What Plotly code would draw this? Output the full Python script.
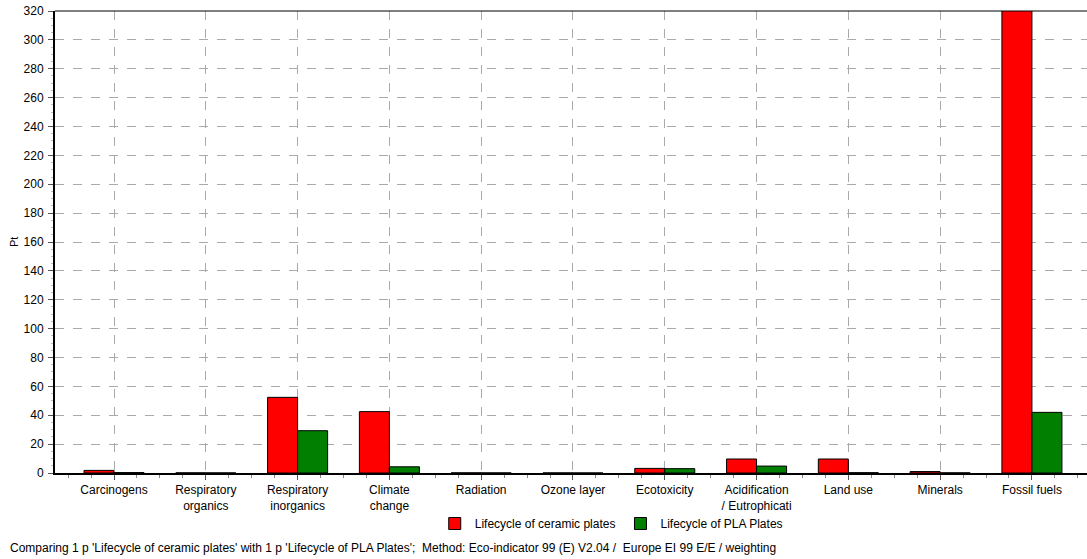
import plotly.graph_objects as go

categories = ["Carcinogens", "Respiratory<br>organics", "Respiratory<br>inorganics", "Climate<br>change",
              "Radiation", "Ozone layer", "Ecotoxicity", "Acidification<br>/ Eutrophicati",
              "Land use", "Minerals", "Fossil fuels"]
ceramic = [1.8, 0.1, 52.4, 42.5, 0.1, 0.05, 3.2, 9.7, 9.7, 1.0, 325]
pla = [0.3, 0.05, 29.3, 4.3, 0.05, 0.02, 3.0, 4.8, 0.2, 0.1, 42.0]
y_ticks = list(range(0, 321, 20))

xpos = list(range(len(categories)))
FONT = "Liberation Sans"
PLOT_H = 462

fig = go.Figure()
fig.add_trace(go.Bar(x=xpos, y=ceramic, name="Lifecycle of ceramic plates",
                     marker=dict(color="#ff0000", line=dict(color="#000000", width=1))))
fig.add_trace(go.Bar(x=xpos, y=pla, name="Lifecycle of PLA Plates",
                     marker=dict(color="#007f00", line=dict(color="#000000", width=1))))

fig.update_layout(
    width=1087, height=559,
    margin=dict(l=55, r=0, t=11, b=86, autoexpand=False),
    paper_bgcolor="white", plot_bgcolor="white",
    barmode="group", bargap=0.346, bargroupgap=0,
    font=dict(family=FONT, size=12, color="#000000"),
    showlegend=True,
    legend=dict(orientation="h", x=0.539, xanchor="center", y=-36 / PLOT_H, yanchor="top",
                font=dict(size=12), tracegroupgap=0, bgcolor="rgba(0,0,0,0)"),
)
fig.update_xaxes(
    range=[-0.643, 10.6], tickvals=xpos, ticktext=categories,
    showgrid=True, gridcolor="#aaaaaa", griddash="dash", gridwidth=1,
    showline=True, linecolor="#000000", linewidth=2,
    ticks="outside", ticklen=5, tickcolor="#555555",
    minor=dict(dtick=0.25, tick0=0, ticks="outside", ticklen=3, tickcolor="#888888", showgrid=False),
    zeroline=False, tickfont=dict(size=12), automargin=False,
)
fig.update_yaxes(
    range=[0, 320], tickvals=y_ticks,
    showgrid=True, gridcolor="#aaaaaa", griddash="dash", gridwidth=1,
    showline=True, linecolor="#000000", linewidth=2,
    ticks="outside", ticklen=5, tickcolor="#555555", ticklabelstandoff=2,
    minor=dict(dtick=5, ticks="outside", ticklen=2, tickcolor="#bbbbbb", showgrid=False),
    zeroline=False, tickfont=dict(size=12), automargin=False,
)
fig.add_shape(type="line", xref="paper", yref="paper", x0=0, x1=1, y0=1, y1=1,
              line=dict(color="#000000", width=1))
fig.add_annotation(text="Pt", textangle=-90, xref="paper", yref="paper",
                   x=0, xanchor="center", xshift=-41, y=0.5, showarrow=False, font=dict(size=11))
fig.add_annotation(
    text="Comparing 1 p 'Lifecycle of ceramic plates' with 1 p 'Lifecycle of PLA Plates';  "
         "Method: Eco-indicator 99 (E) V2.04 /  Europe EI 99 E/E / weighting",
    xref="paper", yref="paper", x=0, xanchor="left", xshift=-47,
    y=-75 / PLOT_H, yanchor="middle", showarrow=False, font=dict(size=12),
)

# drop the page's default body margin so the figure fills the window
fig.write_html("out.html", config={"displayModeBar": False},
               post_script="document.body.style.margin='0';")
